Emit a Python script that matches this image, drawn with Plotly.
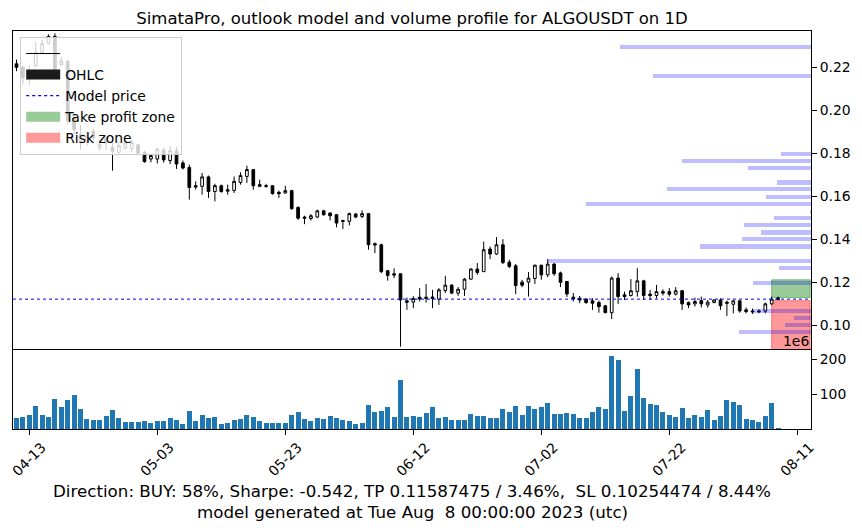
import pandas as pd
import plotly.graph_objects as go

# ---------------- data ----------------
start_date = "2023-04-11"
n_days = 120
dates = pd.date_range(start_date, periods=n_days, freq="D")

opens = [0.2216,0.2200,0.2146,0.2208,0.2270,0.2312,0.2344,0.2213,0.2227,0.1965,
         0.1848,0.1855,0.1902,0.1826,0.1871,0.1828,0.1804,0.1825,0.1822,0.1839,
         0.1804,0.1773,0.1773,0.1815,0.1766,0.1812,0.1755,0.1734,0.1649,0.1646,
         0.1690,0.1622,0.1649,0.1630,0.1627,0.1664,0.1692,0.1724,0.1654,0.1649,
         0.1649,0.1618,0.1615,0.1626,0.1548,0.1503,0.1496,0.1503,0.1532,0.1522,
         0.1514,0.1487,0.1483,0.1517,0.1506,0.1519,0.1379,0.1374,0.1253,0.1239,
         0.1239,0.1113,0.1107,0.1130,0.1130,0.1131,0.1121,0.1161,0.1186,0.1149,
         0.1167,0.1214,0.1261,0.1249,0.1354,0.1331,0.1374,0.1293,0.1276,0.1200,
         0.1200,0.1217,0.1279,0.1234,0.1284,0.1243,0.1203,0.1130,0.1125,0.1121,
         0.1113,0.1105,0.1090,0.1058,0.1219,0.1141,0.1138,0.1156,0.1206,0.1144,
         0.1138,0.1156,0.1156,0.1144,0.1160,0.1105,0.1099,0.1114,0.1094,0.1105,
         0.1117,0.1107,0.1097,0.1113,0.1071,0.1066,0.1066,0.1065,0.1099,0.1119]
highs = [0.2236,0.2208,0.2208,0.2317,0.2328,0.2353,0.2358,0.2250,0.2236,0.1980,
         0.1933,0.1901,0.1915,0.1859,0.1877,0.1874,0.1856,0.1864,0.1864,0.1845,
         0.1812,0.1798,0.1826,0.1826,0.1835,0.1828,0.1766,0.1747,0.1669,0.1708,
         0.1696,0.1658,0.1654,0.1654,0.1692,0.1711,0.1742,0.1727,0.1677,0.1658,
         0.1649,0.1626,0.1649,0.1630,0.1552,0.1509,0.1517,0.1537,0.1537,0.1524,
         0.1516,0.1490,0.1524,0.1522,0.1534,0.1522,0.1385,0.1379,0.1257,0.1265,
         0.1240,0.1128,0.1135,0.1172,0.1191,0.1164,0.1172,0.1229,0.1191,0.1177,
         0.1219,0.1265,0.1289,0.1389,0.1366,0.1410,0.1400,0.1304,0.1285,0.1211,
         0.1247,0.1281,0.1281,0.1307,0.1289,0.1249,0.1205,0.1149,0.1136,0.1125,
         0.1125,0.1114,0.1094,0.1226,0.1242,0.1156,0.1214,0.1265,0.1211,0.1164,
         0.1187,0.1167,0.1172,0.1177,0.1164,0.1110,0.1128,0.1133,0.1117,0.1121,
         0.1125,0.1114,0.1117,0.1114,0.1082,0.1077,0.1074,0.1105,0.1133,0.1133]
lows = [0.2182,0.2120,0.2115,0.2200,0.2264,0.2306,0.2180,0.2204,0.1933,0.1887,
        0.1817,0.1836,0.1854,0.1812,0.1817,0.1719,0.1798,0.1817,0.1808,0.1793,
        0.1756,0.1758,0.1752,0.1756,0.1750,0.1727,0.1724,0.1584,0.1631,0.1607,
        0.1592,0.1576,0.1616,0.1607,0.1615,0.1654,0.1662,0.1630,0.1642,0.1640,
        0.1607,0.1592,0.1612,0.1537,0.1490,0.1470,0.1487,0.1498,0.1509,0.1487,
        0.1455,0.1447,0.1464,0.1498,0.1498,0.1351,0.1335,0.1242,0.1207,0.1219,
        0.0900,0.1071,0.1079,0.1110,0.1105,0.1079,0.1094,0.1149,0.1144,0.1136,
        0.1136,0.1211,0.1234,0.1247,0.1307,0.1327,0.1284,0.1265,0.1144,0.1177,
        0.1133,0.1191,0.1211,0.1223,0.1229,0.1177,0.1131,0.1110,0.1102,0.1099,
        0.1071,0.1058,0.1055,0.1028,0.1099,0.1117,0.1133,0.1133,0.1117,0.1117,
        0.1125,0.1138,0.1133,0.1138,0.1071,0.1079,0.1086,0.1082,0.1082,0.1102,
        0.1071,0.1043,0.1055,0.1058,0.1055,0.1052,0.1055,0.1055,0.1094,0.1117]
closes = [0.2200,0.2151,0.2185,0.2270,0.2310,0.2344,0.2190,0.2229,0.1952,0.1910,
          0.1887,0.1879,0.1871,0.1840,0.1848,0.1809,0.1835,0.1848,0.1851,0.1800,
          0.1761,0.1789,0.1820,0.1769,0.1812,0.1750,0.1731,0.1641,0.1643,0.1690,
          0.1622,0.1649,0.1622,0.1624,0.1669,0.1696,0.1724,0.1649,0.1646,0.1646,
          0.1612,0.1612,0.1626,0.1542,0.1498,0.1498,0.1509,0.1532,0.1514,0.1509,
          0.1475,0.1483,0.1519,0.1503,0.1519,0.1374,0.1373,0.1249,0.1231,0.1233,
          0.1117,0.1107,0.1124,0.1122,0.1125,0.1125,0.1164,0.1186,0.1149,0.1167,
          0.1214,0.1261,0.1245,0.1351,0.1331,0.1374,0.1291,0.1273,0.1184,0.1186,
          0.1219,0.1279,0.1234,0.1284,0.1239,0.1199,0.1145,0.1122,0.1117,0.1105,
          0.1102,0.1086,0.1058,0.1219,0.1133,0.1133,0.1160,0.1206,0.1138,0.1138,
          0.1156,0.1149,0.1144,0.1160,0.1099,0.1094,0.1110,0.1099,0.1107,0.1117,
          0.1090,0.1102,0.1113,0.1066,0.1063,0.1062,0.1062,0.1099,0.1121,0.1127]

# daily volume, in units of 1e6
volumes = [31,34,39,65,39,34,86,63,83,97, 57,28,25,25,37,54,31,19,19,19,
           22,16,22,22,31,25,13,51,22,39, 31,34,13,16,25,28,39,34,22,16,
           16,16,16,39,48,28,22,31,28,37, 31,25,22,13,16,68,48,51,63,34,
           140,34,37,34,45,63,31,34,25,25, 25,42,37,37,31,31,57,48,65,39,
           65,57,63,74,42,42,45,42,31,31, 48,63,57,210,198,51,94,172,88,71,
           68,48,39,34,60,31,39,34,54,25, 37,83,77,68,28,25,19,37,74,2]

# volume profile (price bin centre, relative volume)
profile_prices = [0.2294,0.2160,0.1795,0.1762,0.1730,0.1664,0.1632,0.1598,0.1565,0.1528,
                  0.1497,0.1464,0.1431,0.1399,0.1366,0.1299,0.1265,0.1198,0.1066,0.1035,
                  0.1000,0.0968]
profile_volumes = [955,790,150,645,315,170,720,225,1125,5,
                   185,335,250,345,555,1320,160,290,290,85,
                   130,360]
profile_axis_max = 3990
profile_bin_height = 0.0019

model_price = 0.1121
tp_zone = [0.1128, 0.1211]
risk_zone = [0.0850, 0.1114]
zone_dates = ["2023-08-07", "2023-08-13"]

x_range = ["2023-04-10 10:53", "2023-08-13 03:22"]
price_range = [0.0887, 0.2369]
volume_range = [0, 227]
price_ticks = [0.10, 0.12, 0.14, 0.16, 0.18, 0.20, 0.22]
volume_ticks = [100, 200]
date_ticks = ["2023-04-13", "2023-05-03", "2023-05-23", "2023-06-12",
              "2023-07-02", "2023-07-22", "2023-08-11"]
date_tick_labels = ["04-13", "05-03", "05-23", "06-12", "07-02", "07-22", "08-11"]

title = "SimataPro, outlook model and volume profile for ALGOUSDT on 1D"
footer1 = "Direction: BUY: 58%, Sharpe: -0.542, TP 0.11587475 / 3.46%,\u00a0 SL 0.10254474 / 8.44%"
footer2 = "model generated at Tue Aug \u00a08 00:00:00 2023 (utc)"

# ---------------- figure ----------------
FONT = "DejaVu Sans"
PLOT_TOP, PLOT_BOTTOM = 31, 429
PLOT_H = PLOT_BOTTOM - PLOT_TOP


def paper_y(px):
    return (PLOT_BOTTOM - px) / PLOT_H


fig = go.Figure()

fig.add_trace(go.Candlestick(
    x=dates, open=opens, high=highs, low=lows, close=closes,
    xaxis="x", yaxis="y", showlegend=False, whiskerwidth=0,
    increasing=dict(fillcolor="white", line=dict(color="black", width=1)),
    decreasing=dict(fillcolor="black", line=dict(color="black", width=1)),
))

fig.add_trace(go.Bar(
    x=dates, y=volumes, xaxis="x2", yaxis="y2", showlegend=False,
    marker=dict(color="#1f77b4", line=dict(width=0)), width=0.8 * 86400000,
))

fig.add_trace(go.Bar(
    x=profile_volumes, y=profile_prices, orientation="h", xaxis="x3", yaxis="y",
    showlegend=False, width=profile_bin_height,
    marker=dict(color="rgba(0,0,255,0.26)", line=dict(width=0)),
))

# legend entries
legend_items = [
    (" ", dict(color="black", width=1)),
    ("OHLC", dict(color="#1b1b1b", width=10)),
    ("Model price", dict(color="blue", width=1.3, dash="dot")),
    ("Take profit zone", dict(color="rgba(0,128,0,0.4)", width=10)),
    ("Risk zone", dict(color="rgba(255,0,0,0.4)", width=10)),
]
for i, (name, line) in enumerate(legend_items):
    fig.add_trace(go.Scatter(x=[None], y=[None], mode="lines", name=name, line=line,
                             xaxis="x", yaxis="y", legendgroup=f"g{i}", showlegend=True))

# zones and model price line
fig.add_shape(type="rect", xref="x", yref="y", x0=zone_dates[0], x1=zone_dates[1],
              y0=tp_zone[0], y1=tp_zone[1], fillcolor="rgba(0,128,0,0.4)",
              line=dict(color="rgba(0,128,0,0.45)", width=1), layer="below")
fig.add_shape(type="rect", xref="x", yref="y", x0=zone_dates[0], x1=zone_dates[1],
              y0=risk_zone[0], y1=risk_zone[1], fillcolor="rgba(255,0,0,0.4)",
              line=dict(color="rgba(255,0,0,0.45)", width=1), layer="below")
fig.add_shape(type="line", xref="x domain", yref="y", x0=0, x1=1,
              y0=model_price, y1=model_price, line=dict(color="blue", width=1, dash="dot"))

axis_common = dict(showline=True, linecolor="black", linewidth=1, mirror=True,
                   showgrid=False, zeroline=False, ticks="outside", ticklen=5,
                   tickcolor="black", tickfont=dict(family=FONT, size=13.9, color="black"))

fig.update_layout(
    width=862, height=531,
    margin=dict(l=13, r=51, t=PLOT_TOP, b=531 - PLOT_BOTTOM),
    paper_bgcolor="white", plot_bgcolor="white",
    font=dict(family=FONT, color="black"),
    boxgap=0.4,
    title=dict(text=title, x=0.5, xref="paper", xanchor="center",
               y=1 - 18 / 531, yref="container", yanchor="middle",
               font=dict(family=FONT, size=16.5, color="black")),
    xaxis=dict(domain=[0, 1], anchor="y", range=x_range, type="date",
               showticklabels=False, matches="x2",
               rangeslider=dict(visible=False),
               **{k: v for k, v in axis_common.items() if k != "ticks"}),
    yaxis=dict(domain=[0.2, 1], anchor="x", side="right", range=price_range,
               tickvals=price_ticks, tickformat=".2f", **axis_common),
    xaxis2=dict(domain=[0, 1], anchor="y2", range=x_range, type="date",
                tickvals=date_ticks, showticklabels=False, **axis_common),
    yaxis2=dict(domain=[0, 0.198], anchor="x2", side="right", range=volume_range,
                tickvals=volume_ticks, **axis_common),
    xaxis3=dict(overlaying="x", anchor="y", range=[profile_axis_max, 0], visible=False),
    legend=dict(x=0.009, y=paper_y(37), xanchor="left", yanchor="top",
                bgcolor="rgba(255,255,255,0.8)", bordercolor="#cccccc", borderwidth=1,
                font=dict(family=FONT, size=13.9, color="black"), tracegroupgap=0,
                traceorder="normal", itemwidth=34),
    showlegend=True,
    bargap=0,
)

# rotated date labels under the volume panel
for d, lab in zip(date_ticks, date_tick_labels):
    fig.add_annotation(text=lab, xref="x2", yref="paper", x=d, y=paper_y(438),
                       xanchor="center", yanchor="top", textangle=-45, showarrow=False,
                       borderpad=0, font=dict(family=FONT, size=13.9, color="black"))

fig.add_annotation(text="1e6", xref="paper", yref="paper", x=1, y=paper_y(341),
                   xanchor="right", yanchor="middle", showarrow=False,
                   font=dict(family=FONT, size=13.9, color="black"))
fig.add_annotation(text=footer1, xref="paper", yref="paper", x=0.5, y=paper_y(491),
                   xanchor="center", yanchor="middle", showarrow=False,
                   font=dict(family=FONT, size=16.7, color="black"))
fig.add_annotation(text=footer2, xref="paper", yref="paper", x=0.5, y=paper_y(512),
                   xanchor="center", yanchor="middle", showarrow=False,
                   font=dict(family=FONT, size=16.7, color="black"))

fig.write_html("out.html")
